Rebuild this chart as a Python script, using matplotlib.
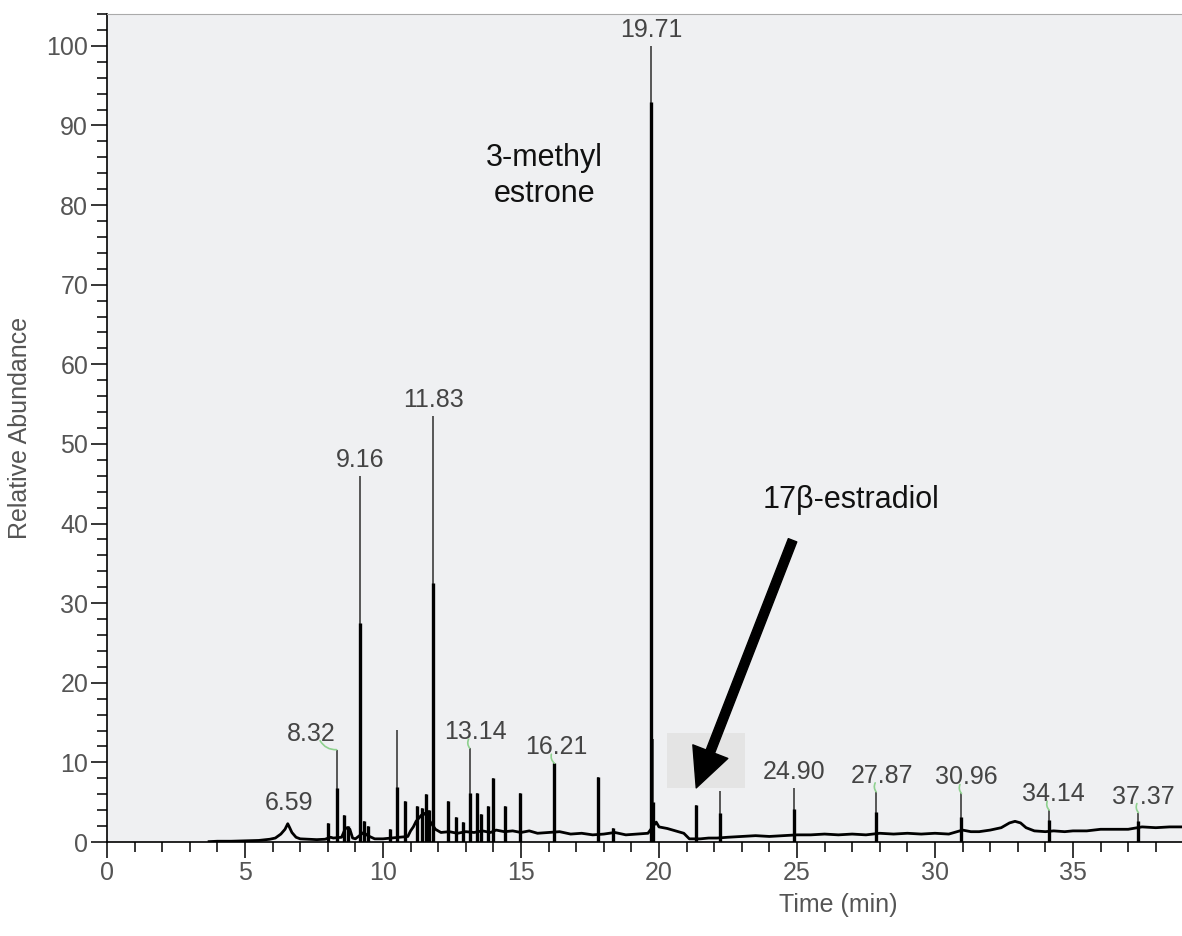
import numpy as np
import matplotlib
matplotlib.use('Agg')
import matplotlib.pyplot as plt
from matplotlib.ticker import MultipleLocator
from matplotlib.patches import Rectangle

plt.rcParams['font.family'] = ['Liberation Sans', 'DejaVu Sans']

# baseline of the trace (time in min, relative abundance)
base_t = [3.7, 4.0, 4.5, 5.0, 5.5, 5.9, 6.1, 6.3, 6.45, 6.55, 6.62, 6.7, 6.85, 7.0, 7.3,
          7.6, 7.9, 8.1, 8.2, 8.5, 8.65, 8.8, 8.9, 9.0, 9.3, 9.45, 9.7, 10.0, 10.3, 10.6,
          10.9, 11.0, 11.1, 11.2, 11.3, 11.4, 11.5, 11.6, 11.7, 11.9, 12.1, 12.4, 12.7,
          13.0, 13.3, 13.6, 13.9, 14.1, 14.4, 14.7, 15.0, 15.3, 15.6, 16.0, 16.4, 16.8,
          17.2, 17.6, 18.0, 18.4, 18.8, 19.2, 19.6, 19.9, 20.0, 20.3, 20.6, 20.9, 21.1,
          21.5, 21.8, 22.1, 22.5, 23.0, 23.5, 24.0, 24.5, 25.0, 25.5, 26.0, 26.5, 27.0,
          27.5, 28.0, 28.5, 29.0, 29.5, 30.0, 30.5, 31.0, 31.3, 31.6, 32.0, 32.4, 32.7,
          32.9, 33.1, 33.3, 33.6, 34.0, 34.3, 34.7, 35.0, 35.5, 36.0, 36.5, 37.0, 37.5,
          38.0, 38.5, 39.0]
base_v = [0.05, 0.1, 0.1, 0.15, 0.2, 0.35, 0.5, 1.0, 1.6, 2.3, 1.8, 1.2, 0.6, 0.4, 0.35,
          0.3, 0.35, 0.6, 0.5, 0.6, 1.8, 1.6, 0.5, 0.4, 1.2, 0.8, 0.4, 0.4, 0.5, 0.6,
          0.7, 1.4, 1.9, 2.6, 3.0, 3.4, 3.6, 3.2, 2.6, 1.6, 1.2, 1.3, 1.1,
          1.3, 1.2, 1.4, 1.2, 1.5, 1.3, 1.4, 1.2, 1.4, 1.1, 1.2, 1.3, 1.0,
          1.1, 0.9, 1.0, 1.2, 0.9, 1.0, 1.1, 2.5, 1.9, 1.7, 1.4, 1.1, 0.4,
          0.4, 0.5, 0.5, 0.6, 0.7, 0.8, 0.7, 0.8, 0.9, 0.9, 1.0, 0.9, 1.0,
          0.9, 1.1, 1.0, 1.1, 1.0, 1.1, 1.0, 1.5, 1.3, 1.3, 1.5, 1.8, 2.4,
          2.6, 2.4, 1.8, 1.4, 1.3, 1.4, 1.3, 1.4, 1.4, 1.6, 1.6, 1.6, 1.9,
          1.8, 1.9, 1.9]

# peaks: retention time, apex height, height of the dense lower part
peak_time = [8.0, 8.32, 8.6, 8.75, 9.16, 9.32, 9.45, 10.25, 10.5, 10.8, 11.25, 11.4, 11.55,
             11.68, 11.83, 12.35, 12.65, 12.9, 13.14, 13.4, 13.55, 13.8, 13.98, 14.42, 14.98,
             16.21, 17.8, 18.35, 19.71, 19.8, 21.35, 22.2, 24.90, 27.87, 30.96, 34.14, 37.37]
peak_top = [2.4, 11.6, 3.4, 2.0, 46.0, 2.6, 2.0, 1.6, 14.1, 5.1, 4.5, 4.3, 6.0,
            4.0, 53.5, 5.2, 3.1, 2.5, 11.8, 6.2, 3.5, 4.5, 8.0, 4.5, 6.2,
            9.9, 8.2, 1.8, 100.0, 13.0, 4.6, 6.4, 6.8, 6.3, 6.1, 4.0, 3.7]
peak_core = [2.4, 6.8, 3.4, 2.0, 27.5, 2.6, 2.0, 1.6, 6.9, 5.1, 4.5, 4.3, 6.0,
             4.0, 32.5, 5.2, 3.1, 2.5, 6.2, 6.2, 3.5, 4.5, 8.0, 4.5, 6.2,
             9.9, 8.2, 1.8, 93.0, 5.0, 4.6, 3.6, 4.2, 3.8, 3.2, 2.8, 2.6]

# retention time labels
label_text = ['6.59', '8.32', '9.16', '11.83', '13.14', '16.21', '19.71',
              '24.90', '27.87', '30.96', '34.14', '37.37']
label_time = [6.59, 8.32, 9.16, 11.83, 13.14, 16.21, 19.71, 24.90, 27.87, 30.96, 34.14, 37.37]
label_height = [2.4, 11.6, 46.0, 53.5, 11.8, 9.9, 100.0, 6.8, 6.3, 6.1, 4.0, 3.7]
label_dx = [0, -25, 0, 0, 6, 2, 0, 0, 6, 5, 4, 5]   # px
label_dy = [8, 4, 4, 4, 4, 4, 4, 4, 4, 4, 4, 4]     # px
label_green = [False, True, False, False, True, True, False, False, True, True, True, True]

fig = plt.figure(figsize=(11.82, 9.36), dpi=100)
ax = fig.add_axes([0.0905, 0.1004, 0.9095, 0.8846])
ax.set_facecolor('#eff0f2')

# grey highlight box near 21-23 min
ax.add_patch(Rectangle((20.3, 6.8), 2.8, 6.9, facecolor='#e4e4e4', edgecolor='none', zorder=1))

ax.plot(base_t, base_v, color='black', lw=2.0, zorder=3)
ax.vlines(peak_time, 0, peak_top, color='#4a4a4a', lw=1.3, zorder=3)
ax.vlines(peak_time, 0, peak_core, color='black', lw=2.4, zorder=4)

px = 72.0 / fig.dpi
for txt, t, h, dx, dy, g in zip(label_text, label_time, label_height, label_dx, label_dy, label_green):
    ax.annotate(txt, xy=(t, h), xytext=(dx * px, dy * px), textcoords='offset points',
                ha='center', va='bottom', fontsize=18, color='#444444', zorder=5)
    if g:
        ax.annotate('', xy=(t, h), xytext=(dx * px * 0.5 - 4 * px, 9 * px),
                    textcoords='offset points',
                    arrowprops=dict(arrowstyle='-', color='#8fd18f', lw=1.2,
                                    connectionstyle='arc3,rad=0.3',
                                    shrinkA=0, shrinkB=0),
                    zorder=5)

ax.text(15.85, 83.7, '3-methyl\nestrone', ha='center', va='center', fontsize=22,
        linespacing=1.25, color='#111111')
ax.text(26.95, 43.0, '17\u03b2-estradiol', ha='center', va='center', fontsize=22,
        color='#111111')
ax.annotate('', xy=(21.35, 6.8), xytext=(24.84, 37.9),
            arrowprops=dict(arrowstyle='simple,head_width=2.7,head_length=2.8,tail_width=0.65',
                            mutation_scale=10, color='black', shrinkA=0, shrinkB=0),
            zorder=6)

ax.set_xlim(0, 38.95)
ax.set_ylim(0, 104)
ax.xaxis.set_major_locator(MultipleLocator(5))
ax.xaxis.set_minor_locator(MultipleLocator(1))
ax.yaxis.set_major_locator(MultipleLocator(10))
ax.yaxis.set_minor_locator(MultipleLocator(2))
ax.tick_params(which='major', length=11.5, width=1.1, color='black', labelsize=18,
               labelcolor='#555555', pad=2)
ax.tick_params(which='minor', length=7, width=1.1, color='black')

for s in ['left', 'bottom']:
    ax.spines[s].set_color('black')
    ax.spines[s].set_linewidth(1.2)
ax.spines['top'].set_color('#aaaaaa')
ax.spines['right'].set_visible(False)

ax.set_xlabel('Time (min)', fontsize=18, color='#555555', labelpad=6)
ax.xaxis.label.set_x(0.68)
ax.set_ylabel('Relative Abundance', fontsize=18, color='#555555', labelpad=10)

fig.savefig('out.png', dpi=100, facecolor='white')
